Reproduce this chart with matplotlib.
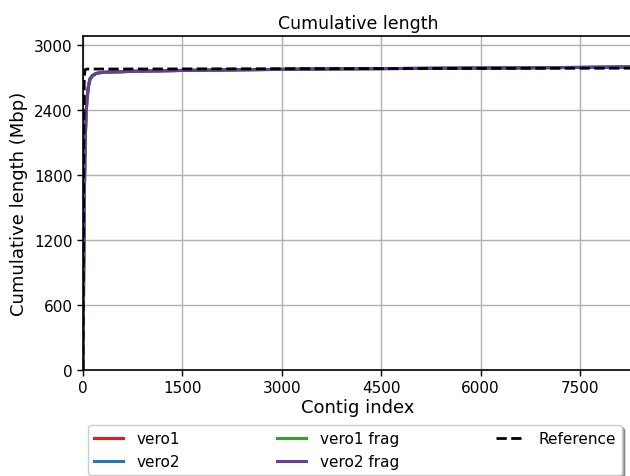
import matplotlib
matplotlib.use('Agg')
from matplotlib import pyplot as plt

# contig index / cumulative length (Mbp)
contig_idx = [0, 5, 10, 20, 30, 45, 60, 80, 105, 140, 190, 256, 400, 700, 1000, 1500,
              2500, 3500, 4500, 6000, 7500, 8400]
asm_len = [0, 450, 900, 1600, 2050, 2350, 2500, 2610, 2686, 2715, 2735, 2745, 2750,
           2756, 2760, 2765, 2772, 2778, 2782, 2787, 2793, 2798]

ref_idx = [0, 5, 10, 15, 20, 30, 60, 8400]
ref_len = [0, 900, 1800, 2400, 2700, 2772, 2778, 2786]

names = ['vero1', 'vero2', 'vero1 frag', 'vero2 frag']
colors = ['#e41a1c', '#1f78b4', '#33a02c', '#6a3d9a']

fig = plt.figure(figsize=(6.3, 4.77), dpi=100)
ax = fig.add_axes([83 / 630, 1 - 371 / 477, 550 / 630, 334 / 477])

for name, c in zip(names, colors):
    ax.plot(contig_idx, asm_len, color=c, lw=2.2, label=name)
ax.plot(ref_idx, ref_len, color='black', ls='--', lw=2, label='Reference')

ax.set_xlim(0, 8300)
ax.set_ylim(0, 3083)
ax.set_xticks([0, 1500, 3000, 4500, 6000, 7500])
ax.set_yticks([0, 600, 1200, 1800, 2400, 3000])
ax.tick_params(labelsize=11, direction='out', length=4, width=1)
ax.grid(color='#b0b0b0', lw=1)
ax.set_axisbelow(True)
for s in ax.spines.values():
    s.set_linewidth(1.2)

ax.set_title('Cumulative length', fontsize=12.5)
ax.set_xlabel('Contig index', fontsize=13, labelpad=2)
ax.set_ylabel('Cumulative length (Mbp)', fontsize=13)

leg = ax.legend(loc='upper left', bbox_to_anchor=(5 / 550, -0.265, 534 / 550, 0.1),
                mode='expand', ncol=3, fontsize=11,
                handlelength=1.9, borderaxespad=0, handletextpad=0.9,
                fancybox=True, shadow=True, framealpha=1, edgecolor='#cccccc')

fig.savefig('out.png', dpi=100)
